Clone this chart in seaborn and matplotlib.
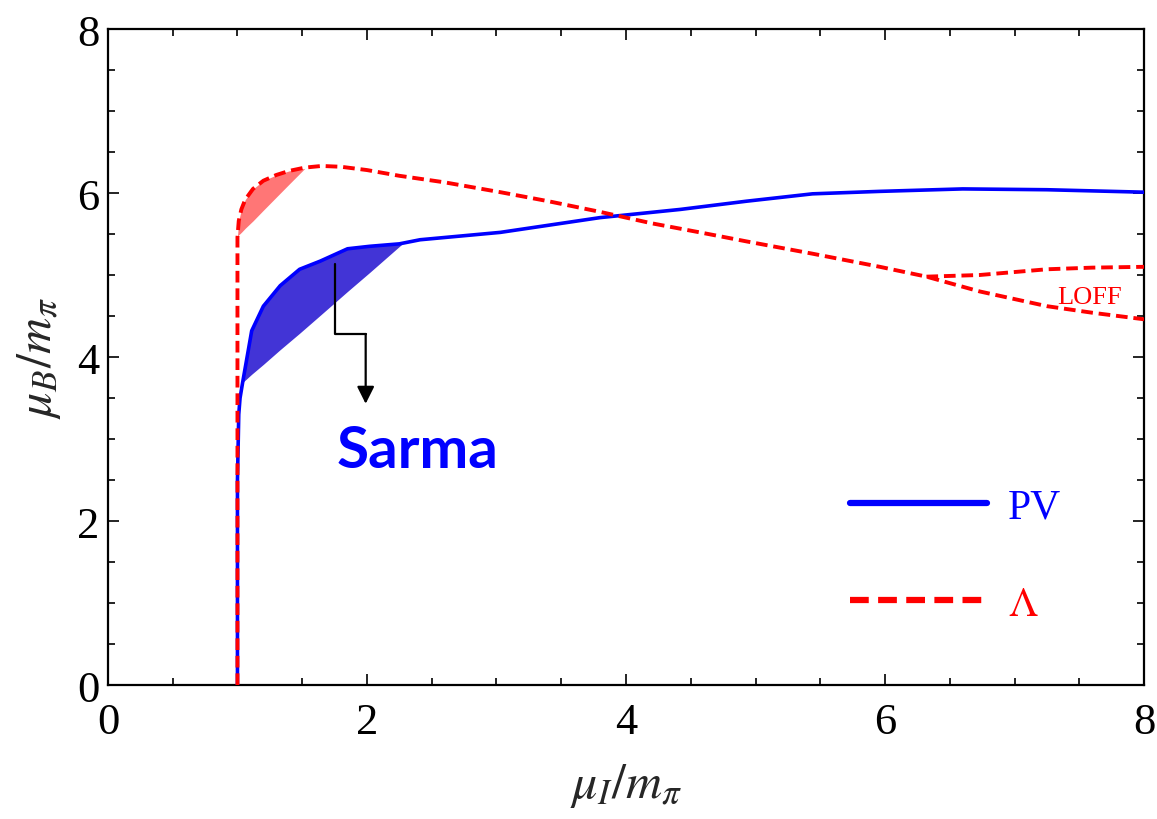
import numpy as np
import pandas as pd
import seaborn as sns
import matplotlib.pyplot as plt
from matplotlib.ticker import MultipleLocator

# Phase boundary curves (mu_I/m_pi, mu_B/m_pi)
pv_x = [1.0, 1.0, 1.01, 1.02, 1.04, 1.11, 1.20, 1.33, 1.48, 1.64, 1.85, 2.02, 2.25,
        2.41, 3.03, 3.80, 4.42, 4.93, 5.44, 5.96, 6.60, 7.25, 8.0]
pv_y = [0.0, 2.5, 3.3, 3.5, 3.69, 4.32, 4.62, 4.87, 5.07, 5.17, 5.32, 5.35, 5.38,
        5.43, 5.52, 5.70, 5.80, 5.90, 5.99, 6.02, 6.05, 6.04, 6.01]

lam_x = [1.0, 1.0, 1.0, 1.01, 1.03, 1.06, 1.12, 1.20, 1.30, 1.40, 1.52, 1.65, 1.80,
         2.00, 2.25, 2.60, 3.03, 3.40, 3.80, 4.20, 4.57, 4.93, 5.44, 5.96, 6.32,
         6.73, 7.25, 7.60, 8.0]
lam_y = [0.0, 3.0, 5.46, 5.66, 5.80, 5.92, 6.05, 6.15, 6.22, 6.27, 6.31, 6.33, 6.32,
         6.28, 6.21, 6.13, 6.01, 5.90, 5.77, 5.63, 5.52, 5.41, 5.26, 5.10, 4.98,
         4.80, 4.62, 4.54, 4.46]

# upper LOFF branch splitting off the Lambda curve
loff_x = [6.32, 6.73, 7.25, 7.60, 8.0]
loff_y = [4.98, 5.00, 5.07, 5.09, 5.10]

# Sarma regions (shaded)
sarma_x = [1.04, 1.11, 1.20, 1.33, 1.48, 1.64, 1.85, 2.02, 2.28]
sarma_upper = [3.69, 4.32, 4.62, 4.87, 5.07, 5.17, 5.32, 5.35, 5.39]
sarma_lower = [3.69, 3.79, 3.91, 4.09, 4.29, 4.51, 4.80, 5.03, 5.39]

lam_fill_x = [1.0, 1.01, 1.03, 1.06, 1.12, 1.20, 1.30, 1.40, 1.52]
lam_fill_upper = [5.47, 5.66, 5.80, 5.92, 6.05, 6.15, 6.22, 6.27, 6.30]
lam_fill_lower = [5.47, 5.49, 5.52, 5.57, 5.66, 5.79, 5.95, 6.11, 6.30]

# pointer from the blue region down to the "Sarma" label
pointer_x = [1.75, 1.75, 1.99]
pointer_y = [5.13, 4.28, 4.28]
pointer_tip = (1.99, 3.43)

sns.set_theme(style="ticks")
plt.rcParams['font.family'] = ['Liberation Serif', 'DejaVu Serif']
plt.rcParams['mathtext.fontset'] = 'stix'

pv = pd.DataFrame({'x': pv_x, 'y': pv_y})
lam = pd.DataFrame({'x': lam_x, 'y': lam_y})
loff = pd.DataFrame({'x': loff_x, 'y': loff_y})

fig = plt.figure(figsize=(11.57, 8.2), dpi=100)
ax = fig.add_axes([0.0933, 0.1634, 0.8955, 0.8000])

red_dash = (0, (3, 1.5))

# shaded regions go under the curves
ax.fill_between(sarma_x, sarma_lower, sarma_upper, color='#4234D6', lw=0, zorder=1)
ax.fill_between(lam_fill_x, lam_fill_lower, lam_fill_upper, color='#FF7676', lw=0, zorder=1)

sns.lineplot(data=pv, x='x', y='y', ax=ax, sort=False, estimator=None,
             color='blue', lw=2.6, label='PV', zorder=3)
sns.lineplot(data=lam, x='x', y='y', ax=ax, sort=False, estimator=None,
             color='red', lw=2.8, linestyle=red_dash, label=r'$\Lambda$', zorder=4)
sns.lineplot(data=loff, x='x', y='y', ax=ax, sort=False, estimator=None,
             color='red', lw=2.8, linestyle=red_dash, zorder=4)

ax.text(7.58, 4.73, 'LOFF', color='red', fontsize=19, ha='center', va='center')

# Sarma pointer
ax.plot(pointer_x, pointer_y, color='black', lw=1.6, zorder=5)
ax.annotate('', xy=pointer_tip, xytext=(pointer_x[-1], pointer_y[-1]),
            arrowprops=dict(arrowstyle='-|>', color='black', lw=1.6,
                            mutation_scale=26, shrinkA=0, shrinkB=0), zorder=5)
ax.text(2.39, 2.66, 'Sarma', color='blue', fontsize=42, fontweight='bold',
        family='Lato', ha='center', va='baseline')

ax.set_xlim(0, 8)
ax.set_ylim(0, 8)
ax.xaxis.set_major_locator(MultipleLocator(2))
ax.yaxis.set_major_locator(MultipleLocator(2))
ax.xaxis.set_minor_locator(MultipleLocator(0.5))
ax.yaxis.set_minor_locator(MultipleLocator(0.5))
ax.tick_params(which='both', direction='in', top=True, right=True, width=1.2, colors='black')
ax.tick_params(which='major', length=8, labelsize=32)
ax.tick_params(which='minor', length=5)
ax.tick_params(axis='x', pad=12)
ax.tick_params(axis='y', pad=6)
for sp in ax.spines.values():
    sp.set_linewidth(1.6)
    sp.set_color('black')

ax.set_xlabel(r'$\mu_I/m_\pi$', fontsize=36, labelpad=14)
ax.set_ylabel(r'$\mu_B/m_\pi$', fontsize=36, labelpad=10)

leg = ax.legend(loc='upper left', bbox_to_anchor=(0.716, 0.30), frameon=False,
                fontsize=30, handlelength=3.3, handletextpad=0.5,
                labelspacing=1.4, labelcolor='linecolor', borderpad=0,
                borderaxespad=0)
for line in leg.get_lines():
    line.set_linewidth(4.5)

fig.savefig('out.png', dpi=100)
